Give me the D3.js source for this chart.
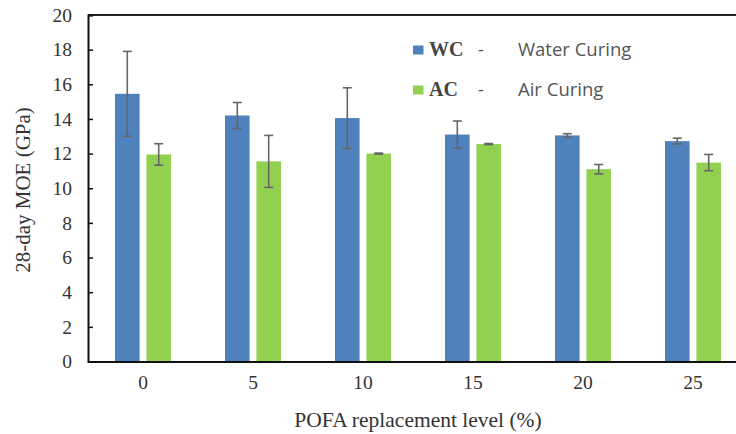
<!DOCTYPE html>
<html><head><meta charset="utf-8">
<script src="https://cdn.jsdelivr.net/npm/d3@7"></script>
<style>body{margin:0;background:#fff}svg{display:block}</style>
</head><body><svg id="c" width="736" height="434"></svg>
<script>
const categories = ["0","5","10","15","20","25"];
const seriesKeys = ["WC","AC"];
const wcValues = [15.45, 14.2, 14.05, 13.1, 13.05, 12.72];
const wcErrors = [2.45, 0.75, 1.75, 0.78, 0.1, 0.17];
const acValues = [11.95, 11.55, 12.0, 12.55, 11.1, 11.48];
const acErrors = [0.62, 1.5, 0.03, 0.03, 0.27, 0.47];
const yTicks = [0,2,4,6,8,10,12,14,16,18,20];
const legendItems = [["WC","Water Curing"],["AC","Air Curing"]];
const colors = {WC:"#4f81bd", AC:"#92d050"};

(function(){
const svg = d3.select("#c");
const mLeft = 88, mRight = 748, mTop = 15, mBottom = 361.5;
const x0 = d3.scaleBand().domain(categories).range([mLeft, mRight]);
const x1 = d3.scaleBand().domain(seriesKeys).range([27, 83]).paddingInner(0.217);
const y = d3.scaleLinear().domain([0,20]).range([mBottom, mTop]);

const data = [];
categories.forEach((c,i)=>{
  data.push({c, k:"WC", v:wcValues[i], e:wcErrors[i]});
  data.push({c, k:"AC", v:acValues[i], e:acErrors[i]});
});

svg.append("g").selectAll("rect").data(data).join("rect")
  .attr("x", d=>x0(d.c)+x1(d.k))
  .attr("y", d=>y(d.v))
  .attr("width", x1.bandwidth())
  .attr("height", d=>y(0)-y(d.v))
  .attr("fill", d=>colors[d.k]);

const eg = svg.append("g").attr("stroke","#666").attr("stroke-width",1.6);
data.forEach(d=>{
  const cx = x0(d.c)+x1(d.k)+x1.bandwidth()/2;
  eg.append("line").attr("x1",cx).attr("x2",cx).attr("y1",y(d.v+d.e)).attr("y2",y(d.v-d.e));
  eg.append("line").attr("x1",cx-4.5).attr("x2",cx+4.5).attr("y1",y(d.v+d.e)).attr("y2",y(d.v+d.e));
  eg.append("line").attr("x1",cx-4.5).attr("x2",cx+4.5).attr("y1",y(d.v-d.e)).attr("y2",y(d.v-d.e));
});

svg.append("line").attr("x1",mLeft).attr("x2",mRight).attr("y1",mTop).attr("y2",mTop)
  .attr("stroke","#222").attr("stroke-width",2);

const yAxis = svg.append("g").attr("transform",`translate(${mLeft},0)`)
  .call(d3.axisRight(y).tickValues(yTicks).tickSize(5).tickFormat(d3.format("d")));
yAxis.select(".domain").attr("stroke","#111").attr("stroke-width",2);
yAxis.selectAll(".tick line").attr("stroke","#111").attr("stroke-width",1.5);
yAxis.selectAll(".tick text").attr("x",-16).attr("text-anchor","end")
  .attr("font-family","Liberation Serif").attr("font-size",19.5).attr("fill","#333");

const xAxis = svg.append("g").attr("transform",`translate(0,${mBottom})`)
  .call(d3.axisBottom(x0).tickSize(0).tickPadding(14));
xAxis.select(".domain").attr("stroke","#111").attr("stroke-width",2);
xAxis.selectAll(".tick text").attr("font-family","Liberation Serif").attr("font-size",19.5).attr("fill","#333");

svg.append("text").attr("x",418).attr("y",427).attr("text-anchor","middle")
  .attr("font-family","Liberation Serif").attr("font-size",21.5).attr("fill","#333")
  .text("POFA replacement level (%)");
svg.append("text").attr("transform","translate(30,190) rotate(-90)").attr("text-anchor","middle")
  .attr("font-family","Liberation Serif").attr("font-size",21).attr("fill","#333")
  .text("28-day MOE (GPa)");

const lg = svg.append("g");
legendItems.forEach((it,i)=>{
  const base = 55.5 + i*40;
  lg.append("rect").attr("x",413).attr("y",base-10).attr("width",10.5).attr("height",9).attr("fill",colors[it[0]]);
  lg.append("text").attr("x",429).attr("y",base).attr("font-family","Liberation Serif").attr("font-weight","bold")
    .attr("font-size",20).attr("fill","#444").text(it[0]);
  lg.append("text").attr("x",478).attr("y",base).attr("font-family","Open Sans").attr("font-size",18).attr("fill","#555").text("-");
  lg.append("text").attr("x",518).attr("y",base).attr("font-family","Open Sans").attr("font-size",18.5).attr("fill","#555").text(it[1]);
});
})();
</script></body></html>
